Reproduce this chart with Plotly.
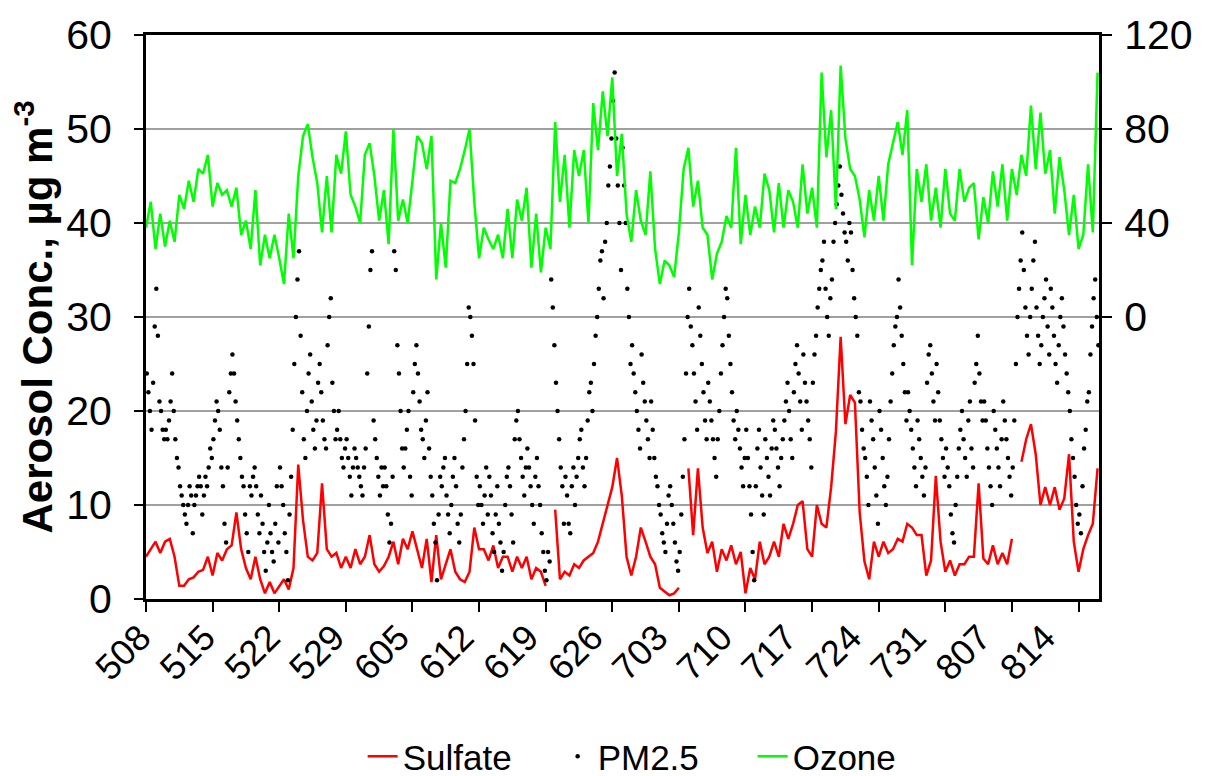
import plotly.graph_objects as go

# ---------------- data ----------------
tick_days = [0, 7, 14, 21, 28, 35, 42, 49, 56, 63, 70, 77, 84, 91, 98]
tick_labels = ["508", "515", "522", "529", "605", "612", "619", "626",
               "703", "710", "717", "724", "731", "807", "814"]

step_days = 0.5  # ozone / sulfate read every half day, starting May 8

# Ozone (ppb, right axis), one row = 5 days
ozone = [
    38.0, 49.0, 29.0, 44.0, 30.0, 41.0, 32.0, 52.0, 46.0, 58.0,
    49.0, 63.0, 61.0, 69.0, 47.0, 57.0, 52.0, 54.0, 47.0, 55.0,
    35.0, 41.0, 29.0, 54.0, 22.0, 35.0, 25.0, 35.0, 25.0, 14.0,
    44.0, 25.0, 60.0, 77.0, 82.0, 68.0, 57.0, 36.0, 60.0, 36.0,
    69.0, 61.0, 79.0, 52.0, 47.0, 40.0, 69.0, 74.0, 60.0, 41.0,
    54.0, 31.0, 80.0, 41.0, 50.0, 40.0, 58.0, 77.0, 74.0, 63.0,
    77.0, 16.0, 40.0, 21.0, 58.0, 57.0, 63.0, 71.0, 80.0, 49.0,
    25.0, 38.0, 33.0, 29.0, 35.0, 25.0, 46.0, 25.0, 50.0, 41.0,
    55.0, 21.0, 44.0, 19.0, 38.0, 29.0, 83.0, 49.0, 69.0, 38.0,
    71.0, 60.0, 71.0, 40.0, 91.0, 71.0, 96.0, 77.0, 102.0, 60.0,
    78.0, 44.0, 32.0, 54.0, 41.0, 35.0, 62.0, 29.0, 14.0, 24.0,
    22.0, 17.0, 36.0, 63.0, 72.0, 47.0, 58.0, 38.0, 35.0, 16.0,
    27.0, 32.0, 43.0, 38.0, 72.0, 31.0, 52.0, 35.0, 47.0, 38.0,
    61.0, 54.0, 36.0, 57.0, 38.0, 54.0, 49.0, 38.0, 65.0, 44.0,
    55.0, 38.0, 104.0, 68.0, 88.0, 46.0, 107.0, 76.0, 63.0, 60.0,
    50.0, 34.0, 54.0, 41.0, 60.0, 41.0, 65.0, 74.0, 83.0, 69.0,
    88.0, 22.0, 63.0, 49.0, 65.0, 41.0, 55.0, 38.0, 63.0, 44.0,
    41.0, 63.0, 49.0, 55.0, 57.0, 33.0, 51.0, 40.0, 62.0, 47.0,
    65.0, 41.0, 63.0, 52.0, 69.0, 60.0, 90.0, 63.0, 87.0, 61.0,
    71.0, 44.0, 68.0, 54.0, 35.0, 52.0, 29.0, 35.0, 65.0, 36.0,
    104.0,
]

# Sulfate (ug/m3, left axis), one row = 5 days
sulfate = [
    4.5, 5.3, 6.1, 4.9, 6.1, 6.4, 4.5, 1.4, 1.4, 2.1,
    2.3, 2.9, 3.1, 4.5, 2.5, 4.9, 4.1, 5.3, 5.7, 9.2,
    5.3, 3.3, 2.1, 4.5, 2.1, 0.6, 1.8, 0.6, 1.4, 2.1,
    1.0, 3.3, 14.3, 8.4, 4.5, 4.1, 4.9, 12.3, 5.3, 4.5,
    4.9, 3.3, 4.5, 3.3, 5.3, 3.7, 4.5, 6.8, 3.7, 2.9,
    3.5, 4.5, 6.1, 3.7, 6.4, 5.3, 7.2, 5.3, 3.3, 6.4,
    1.8, 6.8, 2.1, 3.7, 5.3, 2.9, 2.1, 1.8, 2.9, 7.6,
    5.3, 5.3, 4.1, 5.7, 3.3, 4.5, 4.5, 2.9, 4.5, 3.3,
    4.5, 2.1, 3.3, 2.9, 1.4, None, 9.5, 2.1, 2.9, 2.5,
    3.7, 3.3, 4.1, 4.5, 4.9, 6.1, 8.0, 10.0, 11.9, 15.0,
    11.0, 4.5, 2.5, 4.5, 7.6, 6.1, 4.5, 3.7, 1.2, 0.8,
    0.4, 0.6, 1.2, None, 13.9, 6.8, 13.9, 7.6, 4.9, 6.1,
    2.9, 5.3, 4.1, 5.7, 3.7, 5.0, 0.6, 3.3, 2.1, 6.1,
    3.7, 4.5, 6.1, 4.5, 8.0, 6.4, 8.0, 10.0, 10.4, 5.3,
    4.5, 10.0, 8.0, 7.6, 11.9, 17.8, 27.9, 18.6, 21.7, 20.9,
    9.2, 4.0, 2.1, 6.1, 4.5, 6.1, 4.9, 5.3, 6.4, 6.1,
    8.0, 7.6, 6.8, 6.8, 2.5, 4.1, 13.1, 6.1, 2.9, 4.1,
    2.5, 3.7, 3.7, 4.5, 4.5, 12.3, 4.3, 3.7, 5.7, 3.7,
    4.9, 3.7, 6.4, None, 14.6, 17.0, 18.6, 15.4, 10.0, 11.9,
    10.0, 11.9, 9.5, 10.7, 15.4, 6.1, 2.9, 5.3, 6.8, 8.0,
    13.9,
]

# PM2.5 (ug/m3, left axis): one row per day, readings at these hours
pm_hours = [2, 6, 10, 14, 18, 22]
pm25_rows = [
    [24, 22, 20, 18, 23, 29], [33, 28, 21, 20, 18, 17], [18, 17, 19, 21, 24, 20],
    [17, 15, 14, 12, 11, 10], [9, 8, 10, 12, 11, 7], [10, 11, 12, 13, 12, 9],
    [11, 13, 12, 14, 16, 15], [17, 19, 21, 20, 18, 14], [12, 8, 6, 14, 22, 24],
    [26, 24, 21, 19, 17, 15], [13, 12, 9, 7, 5, 12], [11, 13, 14, 12, 9, 7],
    [11, 8, 5, 3, 6, 10], [7, 5, 4, 8, 12, 6], [14, 12, 10, 7, 5, 2],
    [9, 13, 18, 25, 30, 34], [37, 28, 22, 17, 15, 20], [24, 26, 21, 18, 16, 19],
    [23, 25, 22, 19, 17, 16], [27, 30, 32, 23, 20, 17], [18, 20, 17, 15, 14, 16],
    [17, 15, 13, 11, 14, 16], [15, 14, 13, 12, 11, 14], [16, 24, 29, 35, 37, 19],
    [17, 15, 13, 11, 14, 12], [14, 12, 9, 6, 8, 13], [37, 35, 27, 24, 20, 16],
    [14, 16, 18, 20, 13, 11], [22, 25, 27, 24, 21, 18], [17, 15, 19, 22, 16, 13],
    [11, 8, 6, 2, 9, 13], [12, 14, 15, 11, 9, 7], [10, 13, 15, 12, 8, 6],
    [9, 14, 17, 20, 25, 31], [30, 28, 25, 19, 13, 10], [12, 10, 8, 11, 14, 9],
    [13, 11, 7, 5, 9, 12], [8, 6, 3, 5, 10, 13], [14, 12, 9, 6, 17, 19],
    [20, 17, 15, 13, 11, 14], [16, 14, 12, 10, 8, 13], [15, 12, 10, 7, 5, 3],
    [2, 5, 4, 34, 31, 27], [23, 20, 17, 14, 12, 8], [13, 11, 8, 7, 12, 14],
    [10, 13, 15, 17, 18, 14], [12, 15, 19, 22, 23, 20], [25, 28, 30, 33, 36, 37],
    [32, 38, 40, 44, 46, 49], [53, 56, 49, 44, 40, 35], [48, 44, 40, 33, 30, 25],
    [27, 24, 22, 20, 18, 16], [26, 23, 21, 19, 17, 15], [21, 18, 15, 13, 12, 10],
    [9, 7, 6, 5, 8, 11], [12, 10, 8, 6, 4, 3], [5, 9, 13, 17, 24, 30],
    [33, 29, 27, 24, 21, 18], [31, 28, 25, 22, 19, 17], [23, 21, 19, 17, 15, 13],
    [17, 20, 24, 27, 30, 33], [32, 28, 25, 22, 19, 17], [20, 18, 16, 14, 12, 15],
    [18, 15, 12, 9, 5, 2], [12, 16, 18, 14, 11, 9], [17, 15, 13, 11, 16, 19],
    [18, 16, 14, 12, 15, 17], [19, 21, 23, 20, 17, 15], [22, 25, 27, 24, 21, 18],
    [26, 23, 21, 19, 17, 14], [23, 26, 28, 31, 33, 35], [36, 38, 33, 30, 28, 32],
    [34, 38, 40, 42, 44, 46], [43, 41, 39, 38, 36, 40], [39, 35, 32, 30, 28, 22],
    [21, 18, 16, 15, 13, 10], [21, 19, 17, 14, 11, 8], [20, 18, 15, 12, 10, 13],
    [17, 21, 24, 27, 29, 30], [34, 31, 28, 25, 22, 19], [22, 20, 18, 16, 14, 12],
    [19, 17, 15, 13, 11, 14], [23, 26, 27, 24, 21, 19], [25, 22, 19, 17, 15, 13],
    [16, 14, 12, 9, 7, 6], [10, 13, 16, 18, 20, 17], [15, 13, 19, 21, 16, 14],
    [23, 25, 28, 24, 21, 19], [21, 19, 16, 14, 12, 10], [20, 18, 16, 14, 12, 17],
    [21, 19, 17, 15, 13, 11], [14, 19, 25, 30, 33, 36], [39, 35, 31, 28, 26, 30],
    [33, 36, 38, 31, 28, 25], [27, 30, 32, 34, 29, 26], [33, 31, 28, 25, 23, 27],
    [30, 32, 29, 26, 24, 22], [20, 17, 15, 13, 10, 8], [9, 7, 12, 16, 18, 21],
    [22, 26, 29, 32, 34, 30], [27],
]

# ---------------- build ----------------
ozone_days = [i * step_days for i in range(len(ozone))]
sulfate_days = [i * step_days for i in range(len(sulfate))]
pm_x, pm_y = [], []
for d, row in enumerate(pm25_rows):
    for h, v in zip(pm_hours, row):
        pm_x.append(d + h / 24.0)
        pm_y.append(v)

# label layout: the category labels are set slightly tighter than the weekly tick marks
LABEL_PITCH = 6.79  # days between successive labels on the page
label_pos = [0.02 + k * LABEL_PITCH for k in range(len(tick_labels))]

FONT = "Arial, Liberation Sans, sans-serif"
X_RANGE = [0, 100.15]

fig = go.Figure()
fig.add_trace(go.Scatter(x=sulfate_days, y=sulfate, mode="lines", name="Sulfate",
                         line=dict(color="#ff0000", width=2.5), connectgaps=False))
fig.add_trace(go.Scatter(x=pm_x, y=pm_y, mode="markers", name="PM2.5",
                         marker=dict(color="black", size=4.5)))
fig.add_trace(go.Scatter(x=ozone_days, y=ozone, mode="lines", name="Ozone", yaxis="y2",
                         line=dict(color="#00ff00", width=2.5, simplify=False)))

fig.update_layout(
    width=1211, height=776,
    margin=dict(l=146, r=112, t=26, b=177),
    paper_bgcolor="white", plot_bgcolor="white",
    font=dict(family=FONT, color="black", size=34),
    showlegend=True,
    legend=dict(orientation="h", xref="container", yref="container",
                x=0.541, xanchor="center", y=0.025, yanchor="middle",
                entrywidth=150, entrywidthmode="pixels",
                font=dict(size=35), bgcolor="rgba(0,0,0,0)"),
    xaxis=dict(range=X_RANGE, tickmode="array", tickvals=label_pos, ticktext=tick_labels,
               tickangle=-45, ticks="", ticklabelshift=-6,
               minor=dict(tickmode="array", tickvals=tick_days, ticks="outside",
                          ticklen=10, tickwidth=2, tickcolor="black", showgrid=False),
               showline=True, linewidth=3, linecolor="black", mirror=True,
               showgrid=False, zeroline=False, tickfont=dict(size=36)),
    yaxis=dict(range=[0, 60], tickmode="array", tickvals=[0, 10, 20, 30, 40, 50, 60],
               ticks="outside", ticklen=9, tickwidth=2, tickcolor="black",
               showline=True, linewidth=3, linecolor="black",
               showgrid=True, gridcolor="#a0a0a0", gridwidth=2, zeroline=False,
               tickfont=dict(size=41), ticklabelstandoff=14,
               title=dict(text="<b>Aerosol Conc., µg m<sup>-3</sup></b>",
                          font=dict(size=42), standoff=1)),
    yaxis2=dict(range=[-120, 120], overlaying="y", side="right", tickmode="array",
                tickvals=[0, 40, 80, 120], ticks="outside", ticklen=10, tickwidth=2,
                tickcolor="black", showline=True, linewidth=3, linecolor="black",
                showgrid=False, zeroline=False, tickfont=dict(size=41),
                ticklabelstandoff=4),
)

fig.write_html("out.html")
